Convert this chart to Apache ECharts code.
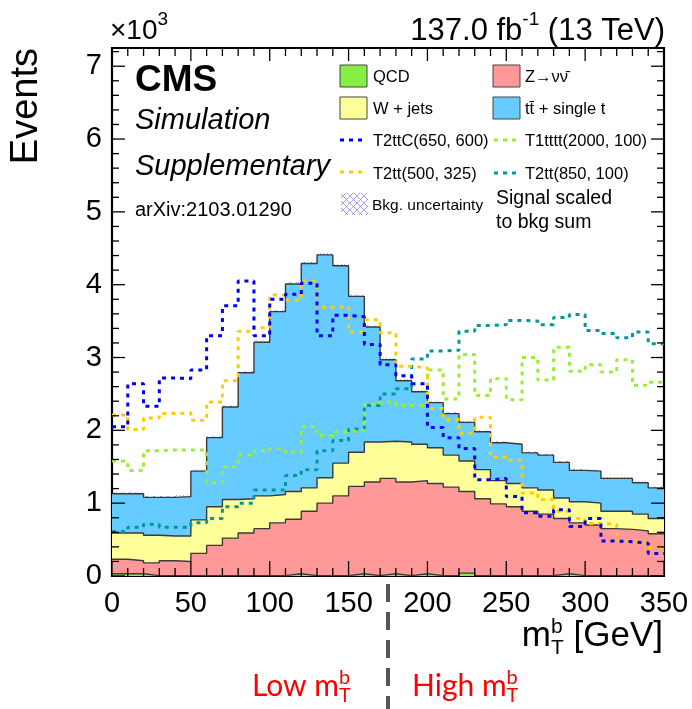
<!DOCTYPE html>
<html><head><meta charset="utf-8">
<script src="https://cdn.jsdelivr.net/npm/echarts@6/dist/echarts.min.js"></script>
<style>html,body{margin:0;padding:0;background:#fff}#c{width:692px;height:709px}</style>
</head><body><div id="c"></div>
<script>
// ---- data (events in units of 10^3) ----
const binLow = [0,10,20,30,40,50,60,70,80,90,100,110,120,130,140,150,160,170,180,190,200,210,220,230,240,250,260,270,280,290,300,310,320,330,340];
const xMax = 350;
const qcd   = [0.03,0.03,0.005,0.005,0.005,0.005,0.005,0.005,0.005,0.005,0.005,0.03,0.005,0.005,0.005,0.03,0.005,0.03,0.005,0.03,0.005,0.005,0.04,0.005,0.005,0.005,0.005,0.005,0.03,0.005,0.005,0.005,0.005,0.005,0.005];
const znn   = [0.20,0.18,0.175,0.205,0.195,0.305,0.415,0.515,0.585,0.645,0.725,0.75,0.885,0.995,1.095,1.20,1.285,1.31,1.285,1.28,1.265,1.215,1.12,1.055,0.985,0.945,0.885,0.845,0.76,0.725,0.695,0.645,0.635,0.615,0.575];
const wjets = [0.36,0.38,0.38,0.34,0.35,0.46,0.53,0.53,0.47,0.45,0.39,0.38,0.32,0.35,0.45,0.47,0.55,0.51,0.55,0.50,0.49,0.44,0.42,0.40,0.32,0.32,0.32,0.33,0.28,0.29,0.30,0.24,0.25,0.23,0.21];
const ttbar = [0.54,0.54,0.52,0.53,0.54,0.67,0.95,1.27,1.73,2.11,2.51,2.85,3.08,3.06,2.71,2.14,1.58,1.12,0.84,0.72,0.62,0.57,0.53,0.52,0.52,0.54,0.48,0.48,0.49,0.43,0.44,0.45,0.45,0.43,0.42];
const bkgUnc = [0.02,0.02,0.02,0.02,0.02,0.02,0.02,0.02,0.02,0.025,0.025,0.025,0.025,0.025,0.025,0.025,0.02,0.02,0.02,0.02,0.02,0.02,0.02,0.02,0.02,0.02,0.02,0.02,0.02,0.02,0.02,0.02,0.02,0.02,0.02];
const sigT2ttC_650_600 = [2.05,2.64,2.33,2.72,2.71,2.83,3.30,3.71,4.05,3.30,3.80,3.87,4.02,3.30,3.58,3.56,3.18,2.90,2.75,2.64,2.04,1.90,1.75,1.32,1.34,1.09,0.87,0.82,0.91,0.68,0.79,0.48,0.47,0.45,0.31];
const sigT2tt_500_325  = [2.21,2.01,2.17,2.23,2.24,2.14,2.39,2.68,3.36,3.41,3.86,3.79,4.05,3.69,3.70,3.35,3.52,3.34,2.88,2.86,2.30,2.15,1.96,2.18,1.63,1.59,1.14,1.05,0.89,0.79,0.72,0.71,0.48,0.46,0.39];
const sigT1tttt_2000_100 = [1.58,1.45,1.72,1.73,1.73,1.73,1.28,1.50,1.66,1.72,1.75,1.70,2.05,1.93,1.98,2.00,2.36,2.39,2.34,2.34,2.83,2.43,3.04,2.48,2.71,2.42,3.00,2.69,3.14,2.81,2.90,2.80,2.97,2.62,2.66];
const sigT2tt_850_100  = [0.61,0.67,0.71,0.67,0.67,0.73,0.79,0.95,1.00,1.18,1.18,1.38,1.46,1.72,1.86,2.02,2.34,2.50,2.57,2.98,3.09,3.10,3.36,3.44,3.45,3.51,3.50,3.45,3.55,3.59,3.37,3.33,3.27,3.35,3.19];
const xTickLabels = [0,50,100,150,200,250,300,350];
const yTickLabels = [0,1,2,3,4,5,6,7];
const yMax = 7.25;
const regionCut = 175;

// ---- helpers ----
const FF = "'Liberation Sans', Arial, sans-serif";
const mctx = document.createElement('canvas').getContext('2d');
function tw(t, size, ff, fw, fs) { mctx.font = (fs||'normal')+' '+(fw||'normal')+' '+size+'px '+ff; return mctx.measureText(t).width; }
function stepData(vals) {
  const d = binLow.map((x, i) => [x, vals[i]]);
  d.push([xMax, vals[vals.length - 1]]);
  return d;
}
const cumQ = qcd.slice();
const cumZ = cumQ.map((v, i) => v + znn[i]);
const cumW = cumZ.map((v, i) => v + wjets[i]);
const cumT = cumW.map((v, i) => v + ttbar[i]);

function hatch(size, color) {
  const c = document.createElement('canvas'); c.width = size; c.height = size;
  const g = c.getContext('2d'); g.strokeStyle = color; g.lineWidth = 0.7;
  g.beginPath(); g.moveTo(0, 0); g.lineTo(size, size); g.moveTo(size, 0); g.lineTo(0, size); g.stroke();
  return { image: c, repeat: 'repeat' };
}
const hatchPat = hatch(7, '#7a7aee');

const areaSeries = (name, vals, color) => ({
  name, type: 'line', step: 'end', data: stepData(vals), symbol: 'none', silent: true,
  lineStyle: { color: '#3a3a3a', width: 1.4 }, areaStyle: { color, opacity: 1, origin: 'start' }
});
const sigSeries = (name, vals, color) => ({
  name, type: 'line', step: 'end', data: stepData(vals), symbol: 'none', silent: true,
  lineStyle: { color, width: 3, type: [4, 5] }
});

const chart = echarts.init(document.getElementById('c'), null, { renderer: 'canvas' });

chart.setOption({
  animation: false,
  backgroundColor: '#fff',
  grid: { left: 112, right: 28, top: 48, bottom: 133, show: true, borderColor: '#000', borderWidth: 2.2, backgroundColor: 'transparent' },
  xAxis: {
    type: 'value', min: 0, max: xMax, interval: 50,
    splitLine: { show: false }, axisLine: { show: false }, axisTick: { show: false },
    axisLabel: { fontSize: 29, color: '#000', fontFamily: FF, margin: 13 }
  },
  yAxis: {
    type: 'value', min: 0, max: yMax, interval: 1,
    splitLine: { show: false }, axisLine: { show: false }, axisTick: { show: false },
    axisLabel: { fontSize: 29, color: '#000', fontFamily: FF, margin: 10, showMaxLabel: false,
      formatter: v => yTickLabels.indexOf(v) >= 0 ? String(v) : '' }
  },
  series: [
    areaSeries('tt + single t', cumT, '#66CCFF'),
    areaSeries('W + jets', cumW, '#FFFF99'),
    areaSeries('Z', cumZ, '#FF9999'),
    areaSeries('QCD', cumQ, '#88EE44'),
    {
      name: 'Bkg. uncertainty', type: 'custom', silent: true,
      data: binLow.map((x, i) => [x, i < binLow.length - 1 ? binLow[i + 1] : xMax, cumT[i], bkgUnc[i]]),
      encode: { x: [0, 1], y: 2 },
      renderItem: (params, api) => {
        const p1 = api.coord([api.value(0), api.value(2) + api.value(3)]);
        const p2 = api.coord([api.value(1), api.value(2) - api.value(3)]);
        return { type: 'rect', shape: { x: p1[0], y: p1[1], width: p2[0] - p1[0], height: p2[1] - p1[1] }, style: { fill: hatchPat, stroke: null } };
      }
    },
    sigSeries('T2tt(850, 100)', sigT2tt_850_100, '#009999'),
    sigSeries('T1tttt(2000, 100)', sigT1tttt_2000_100, '#99EE33'),
    sigSeries('T2tt(500, 325)', sigT2tt_500_325, '#FFCC00'),
    sigSeries('T2ttC(650, 600)', sigT2ttC_650_600, '#0000EE')
  ]
});

// ---- text & legend decorations ----
const G = [];
function txt(x, y, t, size, opts) {
  opts = opts || {};
  G.push({ type: 'text', x, y, rotation: opts.rot || 0, z: 100,
    style: { text: t, fontSize: size, fontFamily: opts.ff || FF, fontWeight: opts.fw || 'normal', fontStyle: opts.fs || 'normal',
      fill: opts.color || '#000', align: opts.align || 'left', verticalAlign: 'middle' } });
}
function runs(x, y, list, opts) {
  opts = opts || {};
  let cx = x;
  list.forEach(r => {
    if (r.stack) {
      let w = 0;
      r.stack.forEach(s => { txt(cx, y + s.dy, s.t, s.s, opts); w = Math.max(w, tw(s.t, s.s, opts.ff || FF)); });
      cx += w;
    } else { txt(cx, y + (r.dy || 0), r.t, r.s, opts); cx += tw(r.t, r.s, opts.ff || FF); }
  });
  return cx - x;
}
function runsWidth(list, ff) {
  let w = 0; list.forEach(r => { if (r.stack) w += Math.max(...r.stack.map(s => tw(s.t, s.s, ff || FF))); else w += tw(r.t, r.s, ff || FF); }); return w;
}
function seg(x1, y1, x2, y2, w) {
  G.push({ type: 'line', z: 90, shape: { x1, y1, x2, y2 }, style: { stroke: '#000', lineWidth: w || 1.3 } });
}

// ticks, positioned by the axis scales (inward, all four sides)
const px = v => chart.convertToPixel({ xAxisIndex: 0 }, v);
const py = v => chart.convertToPixel({ yAxisIndex: 0 }, v);
const L = px(0), R = px(xMax), B = py(0), T = py(yMax);
for (let v = 0; v <= xMax; v += 10) {
  const major = v % 50 === 0;
  const x = px(v);
  seg(x, B, x, B - (major ? 15 : 8));
  seg(x, T, x, T + (major ? 13 : 8));
}
for (let k = 0; k * 0.2 <= yMax; k++) {
  const v = k * 0.2, major = k % 5 === 0;
  const y = py(v);
  seg(L, y, L + (major ? 13 : 7), y);
  seg(R, y, R - (major ? 13 : 7), y);
}

txt(27, 48, 'Events', 38, { rot: Math.PI / 2, align: 'right' });
runs(110, 31, [{ t: '\u00d710', s: 28 }, { t: '3', s: 19, dy: -11 }]);
const lumi = [{ t: '137.0 fb', s: 31 }, { t: '-1', s: 19, dy: -11 }, { t: ' (13 TeV)', s: 31 }];
runs(665 - runsWidth(lumi), 31, lumi);
const xt = [{ t: 'm', s: 35 }, { stack: [{ t: 'T', s: 21, dy: 12 }, { t: 'b', s: 21, dy: -9 }] }, { t: ' [GeV]', s: 35 }];
runs(663 - runsWidth(xt), 636, xt);
txt(135, 81, 'CMS', 37, { fw: 'bold' });
txt(135, 121, 'Simulation', 29, { fs: 'italic' });
txt(135, 167, 'Supplementary', 29, { fs: 'italic' });
txt(135, 210, 'arXiv:2103.01290', 20);

function box(x, y, color, fill) {
  G.push({ type: 'rect', z: 100, shape: { x, y, width: 27, height: 22 }, style: { fill: fill || color, stroke: fill ? null : '#444', lineWidth: 1 } });
}
function lsample(x, y, color) {
  G.push({ type: 'line', z: 100, shape: { x1: x, y1: y, x2: x + 27, y2: y }, style: { stroke: color, lineWidth: 3, lineDash: [4, 5] } });
}
const LS = 16.5;
box(340, 65, '#88EE44'); txt(373, 77, 'QCD', LS);
box(340, 97, '#FFFF99'); txt(373, 109, 'W + jets', LS);
lsample(340, 140, '#0000EE'); txt(373, 141, 'T2ttC(650, 600)', LS);
lsample(340, 172, '#FFCC00'); txt(373, 174, 'T2tt(500, 325)', LS);
box(341, 193, null, hatchPat); txt(372, 206, 'Bkg. uncertainty', 15.5);
box(493, 65, '#FF9999'); txt(525, 77, 'Z\u2192\u03bd\u03bd\u0304', LS);
box(493, 97, '#66CCFF'); txt(525, 109, 'tt\u0304 + single t', LS);
lsample(494, 140, '#99EE33'); txt(525, 141, 'T1tttt(2000, 100)', LS);
lsample(494, 173, '#009999'); txt(525, 174, 'T2tt(850, 100)', LS);
txt(496, 199, 'Signal scaled', 19.5);
txt(496, 223, 'to bkg sum', 19.5);

const LF = "Lato, 'Open Sans', sans-serif";
const low = [{ t: 'Low m', s: 30 }, { stack: [{ t: 'T', s: 20, dy: 10 }, { t: 'b', s: 20, dy: -8 }] }];
runs(252, 686, low, { ff: LF, color: '#FF0000' });
const high = [{ t: 'High m', s: 30 }, { stack: [{ t: 'T', s: 20, dy: 10 }, { t: 'b', s: 20, dy: -8 }] }];
runs(412, 686, high, { ff: LF, color: '#FF0000' });

const cutX = px(regionCut);
G.push({ type: 'line', z: 100, shape: { x1: cutX, y1: 584, x2: cutX, y2: 709 }, style: { stroke: '#555', lineWidth: 4, lineDash: [18, 10] } });

chart.setOption({ graphic: { elements: G } });
</script></body></html>
